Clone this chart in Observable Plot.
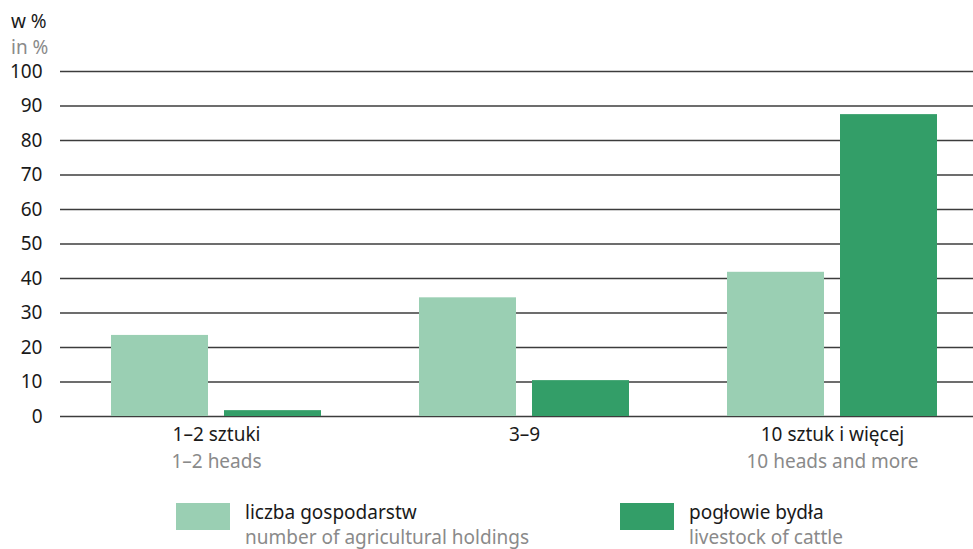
<!DOCTYPE html>
<html>
<head>
<meta charset="utf-8">
<script src="https://cdn.jsdelivr.net/npm/d3@7"></script>
<script src="https://cdn.jsdelivr.net/npm/@observablehq/plot@0.6"></script>
<style>
  html, body { margin: 0; padding: 0; background: #fff; }
  body { width: 973px; height: 549px; overflow: hidden; font-family: "Noto Sans", sans-serif; }
  #wrap { position: relative; width: 973px; height: 549px; }
  .unit { position: absolute; left: 11px; font-size: 19px; line-height: 1; }
  .legend { position: absolute; top: 503px; display: flex; align-items: flex-start; }
  .sw { width: 54px; height: 27px; }
  .lt { margin-left: 15px; font-size: 19px; line-height: 25px; margin-top: -3px; white-space: nowrap; }
  .lt .en { line-height: 24px; }
  .pl { color: #1a1a1a; }
  .en { color: #8a8a8a; }
</style>
</head>
<body>
<div id="wrap">
  <div class="unit pl" style="top:12px">w %</div>
  <div class="unit en" style="top:38px">in %</div>
  <div id="chart" style="position:absolute;left:0;top:55px"></div>
  <div id="legend"></div>
</div>
<script>
const categories = ["1–2 sztuki", "3–9", "10 sztuk i więcej"];
const categoriesEn = ["1–2 heads", "", "10 heads and more"];
const holdings = [23.5, 34.4, 41.8];
const cattle = [1.7, 10.4, 87.5];
const yTicks = [0, 10, 20, 30, 40, 50, 60, 70, 80, 90, 100];
const seriesPl = ["liczba gospodarstw", "pogłowie bydła"];
const seriesEn = ["number of agricultural holdings", "livestock of cattle"];
const colors = ["#9acfb3", "#339e68"];

const rows = categories.map((c, i) => ({cat: c, en: categoriesEn[i], holdings: holdings[i], cattle: cattle[i]}));

const chart = Plot.plot({
  width: 973,
  height: 435,
  marginTop: 16,
  marginLeft: 60,
  marginRight: 0,
  marginBottom: 74,
  style: {fontFamily: "Noto Sans", fontSize: "19px", color: "#1a1a1a", background: "#fff"},
  x: {domain: categories, range: [60, 987], paddingInner: 0.319, paddingOuter: 0.162, axis: null},
  y: {domain: [0, 100], axis: null},
  marks: [
    Plot.ruleY(yTicks, {stroke: "#3c3c3c", strokeWidth: 1.3}),
    Plot.barY(rows, {x: "cat", y: "holdings", fill: colors[0], insetRight: 113}),
    Plot.barY(rows, {x: "cat", y: "cattle", fill: colors[1], insetLeft: 113}),
    Plot.axisY(yTicks, {tickSize: 0, tickPadding: 18, fontSize: 19, fill: "#1a1a1a"}),
    Plot.text(rows, {x: "cat", text: "cat", frameAnchor: "bottom", lineAnchor: "top", dy: 11, fill: "#1a1a1a", fontSize: 19}),
    Plot.text(rows, {x: "cat", text: "en", frameAnchor: "bottom", lineAnchor: "top", dy: 38, fill: "#8a8a8a", fontSize: 19})
  ]
});
document.getElementById("chart").appendChild(chart);

const leg = document.getElementById("legend");
const lefts = [176, 620];
seriesPl.forEach((s, i) => {
  const d = document.createElement("div");
  d.className = "legend";
  d.style.left = lefts[i] + "px";
  d.innerHTML = `<div class="sw" style="background:${colors[i]}"></div><div class="lt"><div class="pl">${s}</div><div class="en">${seriesEn[i]}</div></div>`;
  leg.appendChild(d);
});
</script>
</body>
</html>
